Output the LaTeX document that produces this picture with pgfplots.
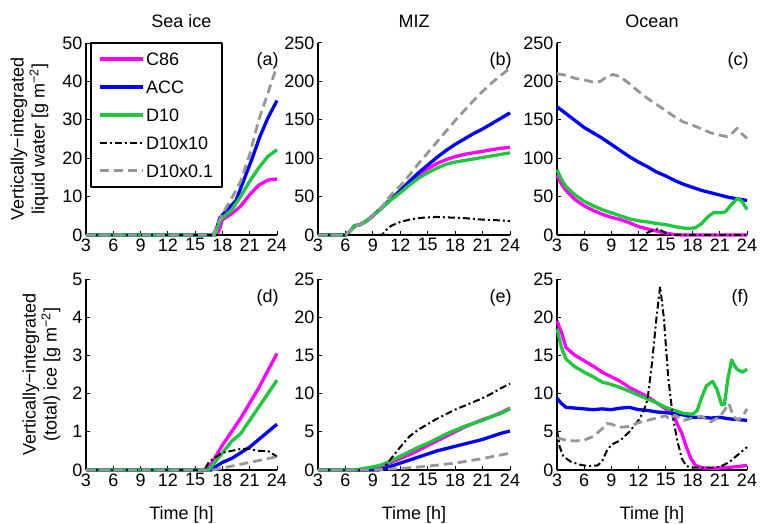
\documentclass[border=0pt]{standalone}
\usepackage{fontspec}
\setmainfont{Liberation Sans}
\usepackage{pgfplots}
\pgfplotsset{compat=1.18}
\definecolor{mygreen}{RGB}{30,200,60}
\definecolor{mygray}{RGB}{150,150,150}
\definecolor{mymag}{RGB}{255,0,255}
\definecolor{myblue}{RGB}{0,0,255}
\newcommand{\ff}{\fontsize{18}{21}\selectfont}
\pgfplotsset{
  c86/.style={color=mymag, line width=3.3pt},
  acc/.style={color=myblue, line width=3.3pt},
  d10/.style={color=mygreen, line width=3.3pt},
  dxx/.style={color=black, line width=2pt, dash pattern=on 7pt off 3pt on 2pt off 3pt},
  dx01/.style={color=mygray, line width=2.8pt, dash pattern=on 9pt off 5pt},
  base/.style={scale only axis, anchor=south west,
    axis x line=bottom, axis y line=left,
    axis line style={line width=1.7pt,-},
    xmin=3, xmax=24, xtick={3,6,...,24}, ymin=0,
    tick align=inside, major tick length=4pt,
    every tick/.style={black, line width=1pt},
    clip=false, font=\ff, tick label style={font=\ff},
    /pgf/number format/assume math mode=true,
    no markers, line join=round,
    legend image code/.code={\draw[##1] (0pt,0pt) -- (43pt,0pt);},
  },
  top/.style={height=192pt},
  bot/.style={height=191pt},
}
\begin{document}
\begin{tikzpicture}
\useasboundingbox (0,0) rectangle (763pt,523pt);
% ---------------- (a)
\begin{axis}[base, top, at={(86pt,288pt)}, width=191pt, ymax=50, ytick={0,10,...,50},
  legend style={at={(axis description cs:0.021,1.005)}, anchor=north west, draw=black, line width=1.7pt, fill=white,
    inner xsep=7pt, inner ysep=2pt, row sep=0pt, font=\ff,
    nodes={text height=13pt, text depth=0pt, inner ysep=7.5pt, inner xsep=2pt}},
  legend cell align=left]
\addplot[c86] coordinates {(3,0)(17.3,0)(17.6,1)(18,4)(19,5.5)(20,7.5)(21,10.5)(22,13)(23,14.3)(24,14.6)};
\addlegendentry{C86}
\addplot[acc] coordinates {(3,0)(17,0)(17.4,2)(17.7,4.4)(18.5,6.5)(19.5,9)(20.3,14)(21.2,19.5)(22.1,25.5)(23,30.5)(24,35)};
\addlegendentry{ACC}
\addplot[d10] coordinates {(3,0)(17.2,0)(17.6,3)(18,4.5)(19,6.5)(20,10)(21,14)(22,17.5)(23,20.5)(24,22.2)};
\addlegendentry{D10}
\addplot[dxx] coordinates {(3,0)(24,0)};
\addlegendentry{D10x10}
\addplot[dx01] coordinates {(3,0)(17,0)(17.5,3)(18,5.5)(19,9.5)(20,14)(21,21)(22,30)(23,37)(24,44)};
\addlegendentry{D10x0.1\hspace{7pt}}
\node[anchor=east, inner sep=0pt] at (rel axis cs:1.01,0.905) {(a)};
\end{axis}
% ---------------- (b)
\begin{axis}[base, top, at={(318pt,288pt)}, width=192pt, ymax=250, ytick={0,50,...,250}]
\addplot[c86] coordinates {(3,0)(6,0)(6.5,5)(7,12)(7.5,13)(8,16)(8.5,20)(9,25)(10,36)(11,47)(12,57)(13,68)(14,78)(15,86)(16,93)(17,98)(18,102)(19,105)(20,107)(21,109)(22,111)(23,113)(24,114)};
\addplot[acc] coordinates {(3,0)(6,0)(6.5,5)(7,12)(7.5,13)(8,16)(8.5,20)(9,25)(10,36)(11,47)(12,58)(13,70)(14,81)(15,91)(16,101)(17,110)(18,118)(19,125)(20,132)(21,138)(22,145)(23,152)(24,159)};
\addplot[d10] coordinates {(3,0)(6,0)(6.5,5)(7,12)(7.5,13)(8,16)(8.5,20)(9,25)(10,35)(11,46)(12,55)(13,65)(14,74)(15,81)(16,87)(17,92)(18,95)(19,97)(20,99)(21,101)(22,103)(23,105)(24,107)};
\addplot[dxx] coordinates {(3,0)(10,0)(10.5,7)(11,12)(12,17)(13,20)(14,22)(15,23)(16,23.5)(17,23)(18,22.5)(19,22)(20,21)(21,20)(22,19.5)(23,19)(24,18)};
\addplot[dx01] coordinates {(3,0)(6,0)(6.5,5)(7,12)(7.5,13)(8,16)(8.5,20)(9,25)(10,37)(11,52)(12,64)(13,78)(14,93)(15,107)(16,121)(17,135)(18,149)(19,162)(20,175)(21,187)(22,198)(23,208)(24,217)};
\node[anchor=east, inner sep=0pt] at (rel axis cs:1.01,0.905) {(b)};
\end{axis}
% ---------------- (c)
\begin{axis}[base, top, at={(557pt,288pt)}, width=190pt, ymax=250, ytick={0,50,...,250}]
\addplot[c86] coordinates {(3,78)(3.5,66)(4,58)(5,46)(6,38)(7,32)(8,27)(9,23)(10,20)(11,16)(12,11)(13,8)(14,5)(15,2.5)(16,0.5)(17,0)(24,0)};
\addplot[acc] coordinates {(3,167)(4,158)(5,149)(6,140)(7,133)(8,126)(9,118)(10,110)(11,102)(12,95)(13,89)(14,82)(15,77)(16,71)(17,66)(18,62)(19,58)(20,55)(21,52)(22,49)(23,47)(24,45)};
\addplot[d10] coordinates {(3,85)(3.5,72)(4,63)(5,52)(6,44)(7,38)(8,33)(9,29)(10,25)(11,21)(12,18.5)(13,17)(14,15)(15,13.5)(16,11)(17,9)(17.7,8.5)(18.3,9.5)(19,15)(19.7,24)(20.3,29)(21,29)(21.6,30)(22.3,40)(23,48)(23.5,43)(24,33)};
\addplot[dxx] coordinates {(3,0)(12.5,0)(13,3)(13.6,6)(14.2,8)(14.8,4)(15.3,0)(24,0)};
\addplot[dx01] coordinates {(3,210)(4,208)(5,204)(6,202)(7,199)(7.8,200)(8.5,206)(9.2,209)(10,206)(11,197)(12,187)(13,178)(14,170)(15,162)(16,154)(17,147)(18,143)(19,138)(20,133)(21,130)(21.8,128)(22.5,134)(22.9,139)(23.5,131)(24,126)};
\node[anchor=east, inner sep=0pt] at (rel axis cs:1.01,0.905) {(c)};
\end{axis}
% ---------------- (d)
\begin{axis}[base, bot, at={(86pt,53pt)}, width=191pt, ymax=5, ytick={0,1,...,5}]
\addplot[c86] coordinates {(3,0)(16.3,0)(17,0.25)(18,0.65)(19,1.0)(20,1.35)(21,1.75)(22,2.15)(23,2.6)(24,3.05)};
\addplot[acc] coordinates {(3,0)(16.8,0)(17,0.05)(18,0.2)(19,0.3)(20,0.45)(21,0.6)(22,0.8)(23,1.0)(24,1.2)};
\addplot[d10] coordinates {(3,0)(16.5,0)(17,0.15)(18,0.45)(19,0.75)(20,0.95)(21,1.3)(22,1.65)(23,2.0)(24,2.35)};
\addplot[dxx] coordinates {(3,0)(16,0)(16.5,0.2)(17,0.3)(18,0.45)(19,0.5)(20,0.55)(21,0.55)(22,0.5)(23,0.5)(24,0.35)};
\addplot[dx01] coordinates {(3,0)(17,0)(18,0.05)(19,0.1)(20,0.15)(21,0.2)(22,0.25)(23,0.3)(24,0.35)};
\node[anchor=east, inner sep=0pt] at (rel axis cs:1.01,0.9) {(d)};
\end{axis}
% ---------------- (e)
\begin{axis}[base, bot, at={(318pt,53pt)}, width=192pt, ymax=25, ytick={0,5,...,25}]
\addplot[c86] coordinates {(3,0)(8,0)(9,0.2)(10,0.5)(11,1.0)(12,1.5)(13,2.0)(14,2.6)(15,3.2)(16,3.8)(17,4.4)(18,5.0)(19,5.6)(20,6.1)(21,6.6)(22,7.0)(23,7.5)(24,8.1)};
\addplot[acc] coordinates {(3,0)(9.5,0)(10,0.1)(11,0.5)(12,0.9)(13,1.3)(14,1.7)(15,2.1)(16,2.5)(17,2.8)(18,3.1)(19,3.4)(20,3.7)(21,4.0)(22,4.4)(23,4.8)(24,5.1)};
\addplot[d10] coordinates {(3,0)(7,0)(8,0.2)(9,0.4)(10,0.7)(11,1.2)(12,1.8)(13,2.4)(14,3.0)(15,3.5)(16,4.1)(17,4.7)(18,5.2)(19,5.7)(20,6.1)(21,6.5)(22,7.0)(23,7.4)(24,8.0)};
\addplot[dxx] coordinates {(3,0)(10,0)(11,1.5)(12,3)(13,4.4)(14,5.3)(15,6.0)(16,6.7)(17,7.3)(18,7.9)(19,8.4)(20,8.9)(21,9.4)(22,10.0)(23,10.7)(24,11.3)};
\addplot[dx01] coordinates {(3,0)(9,0)(12,0.2)(15,0.5)(18,0.9)(21,1.5)(24,2.2)};
\node[anchor=east, inner sep=0pt] at (rel axis cs:1.01,0.9) {(e)};
\end{axis}
% ---------------- (f)
\begin{axis}[base, bot, at={(557pt,53pt)}, width=190pt, ymax=25, ytick={0,5,...,25}]
\addplot[c86] coordinates {(3,19.5)(3.5,18)(4,16)(5,15)(6,14.3)(7,13.6)(8,12.8)(9,12.2)(10,11.6)(11,10.8)(12,10.2)(13,9.6)(14,8.8)(15,8.0)(15.8,7.4)(16.3,6.0)(16.8,4.8)(17.3,3.0)(17.8,1.5)(18.3,0.6)(19,0.3)(20,0.2)(21,0.25)(22,0.35)(23,0.45)(24,0.6)};
\addplot[acc] coordinates {(3,9.4)(3.5,8.7)(4,8.2)(5,8.1)(6,8.0)(7,7.9)(8,8.0)(9,7.9)(10,8.1)(11,8.2)(12,7.9)(13,7.8)(14,7.6)(15,7.5)(16,7.4)(17,7.2)(18,6.9)(19,6.9)(20,6.8)(21,6.9)(22,6.7)(23,6.6)(24,6.5)};
\addplot[d10] coordinates {(3,18.5)(3.5,16)(4,14.5)(5,13.5)(6,12.8)(7,12.2)(8,11.5)(9,11.2)(10,10.8)(11,10.3)(12,9.8)(13,9.3)(14,8.8)(15,8.2)(16,7.8)(17,7.4)(18,7.3)(18.5,7.8)(19,9.5)(19.5,11)(20.2,11.6)(20.7,10.5)(21.2,8.5)(21.5,8.6)(21.9,12)(22.3,14.4)(22.7,13.5)(23,13.1)(23.5,12.8)(24,13.2)};
\addplot[dxx] coordinates {(3,5.2)(3.3,3)(3.7,1.8)(4.5,1.1)(5.5,0.7)(6.5,0.5)(7.5,0.6)(8,1.2)(8.5,2.5)(9,3.3)(10,3.9)(11,5.0)(12,6.5)(12.5,7.5)(13,9.2)(13.5,14)(14,20)(14.4,24)(14.8,20)(15.3,12)(15.8,7)(16.3,3.8)(16.8,1.5)(17.3,0.5)(18,0.3)(19,0.3)(20,0.3)(21,0.4)(22,1.0)(23,2.0)(24,3.0)};
\addplot[dx01] coordinates {(3,4.2)(4,3.9)(5,3.8)(6,3.9)(7,4.4)(8,5.4)(8.5,6.1)(9,6.0)(10,5.6)(11,5.7)(12,6.2)(13,6.5)(14,6.8)(15,7.1)(15.5,6.6)(16,7.2)(17,6.5)(18,6.8)(19,7.0)(20,6.3)(21,7.0)(21.5,7.8)(22,8.7)(22.5,7.0)(23,6.5)(23.5,7.0)(24,8.0)};
\node[anchor=east, inner sep=0pt] at (rel axis cs:1.01,0.9) {(f)};
\end{axis}
% ---------------- titles and labels
\node[anchor=base, font=\ff] at (181.5pt,495pt) {Sea ice};
\node[anchor=base, font=\ff] at (414pt,495pt) {MIZ};
\node[anchor=base, font=\ff] at (652pt,495pt) {Ocean};
\node[anchor=base, font=\ff] at (181.5pt,4pt) {Time [h]};
\node[anchor=base, font=\ff] at (414pt,4pt) {Time [h]};
\node[anchor=base, font=\ff] at (652pt,4pt) {Time [h]};
\node[rotate=90, align=center, font=\ff] at (29.5pt,384pt) {Vertically−integrated\\liquid water [g m\textsuperscript{−2}]};
\node[rotate=90, align=center, font=\ff] at (41.5pt,148.5pt) {Vertically−integrated\\(total) ice [g m\textsuperscript{−2}]};
\end{tikzpicture}
\end{document}
